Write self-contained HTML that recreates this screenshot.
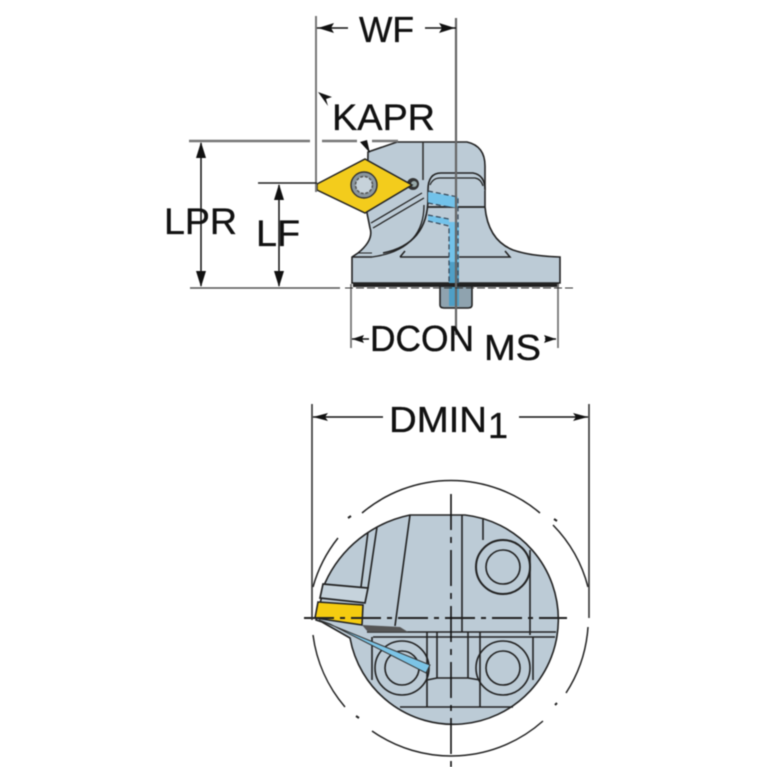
<!DOCTYPE html>
<html><head><meta charset="utf-8"><style>
html,body{margin:0;padding:0;background:#fff}
svg{display:block;filter:blur(.45px)}
text{font-family:"Liberation Sans",sans-serif;fill:#111;stroke:#111;stroke-width:.35}
</style></head><body>
<svg width="767" height="767" viewBox="0 0 767 767" xmlns="http://www.w3.org/2000/svg">

<!-- TOP VIEW body -->
<path d="M368 152L397 142H467Q485 146 485 166V207Q488 240 513 250Q530 256 560 257V283H352V257L358 253Q374 240 370 228L367 213Z" fill="#bccbd6" stroke="#222" stroke-width="1.6"/>
<path d="M423 142V180" stroke="#333" stroke-width="1.6"/>
<path d="M352 257H372M400 257L405 251M400 257H510L505 251" fill="none" stroke="#222" stroke-width="1.5"/>
<path d="M358 253H372" fill="none" stroke="#222" stroke-width="1"/>
<path d="M383 253Q428 244 428 198V190Q428 173 441 173H473Q485 175 485 190" fill="#bccbd6" stroke="#222" stroke-width="1.6"/>
<path d="M372 257Q424 250 424 205" fill="none" stroke="#222" stroke-width="1.3"/>
<path d="M430 185Q433 178 440 178H475Q481 179 483 186" fill="none" stroke="#222" stroke-width="1.2"/>
<path d="M428 207H485" stroke="#222" stroke-width="1.8"/>
<path d="M371 223L422 193M373 228L424 198" stroke="#222" stroke-width="1.3"/>
<!-- coolant -->
<path d="M428 192L458 197V208L428 203Z M428 215L449 219V225L428 221Z" fill="#72c2ea"/>
<path d="M449 222H459V262H449Z" fill="#72c2ea"/>
<path d="M449 262H459V306H449Z" fill="#4f9fc6"/>
<path d="M428 191L458 197V303M428 203L449 207M428 215L449 219M428 221L449 226V303" fill="none" stroke="#345" stroke-width="1.2" stroke-dasharray="5 3"/>
<!-- screw bottom -->
<path d="M440 286H472V305Q472 308 468 308H444Q440 308 440 305Z" fill="#8fa3af" stroke="#222" stroke-width="1.6"/>
<rect x="449" y="286" width="10" height="20" fill="#4f9fc6"/>
<rect x="353" y="283" width="206" height="4" fill="#222"/>
<!-- insert -->
<circle cx="413" cy="184" r="6" fill="#333"/><circle cx="414" cy="184" r="3" fill="#9aa"/>
<path d="M317 184L365 159L412 185L365 213L317 190Z" fill="#f3cc1c" stroke="#222" stroke-width="1.5"/>
<circle cx="364" cy="185" r="13" fill="#8b979e" stroke="#333" stroke-width="1.4"/>
<circle cx="364" cy="185" r="8.5" fill="#c6d2da" stroke="#555" stroke-width="1.5" stroke-dasharray="3 1.5"/>

<!-- dimension lines top -->
<path d="M456 18V335" stroke="#666" stroke-width="2.2"/>
<path d="M316 16V192" stroke="#777" stroke-width="2"/>
<path d="M189 141H310M322 141H357M372 141H398" stroke="#777" stroke-width="2.5"/>
<path d="M351 284V348M558 284V348" stroke="#777" stroke-width="1.8"/>
<path d="M190 288H340" stroke="#555" stroke-width="1.5"/>
<path d="M345 288H574" stroke="#333" stroke-width="1" stroke-dasharray="8 3"/>
<path d="M258 183H317" stroke="#222" stroke-width="1.5"/>
<path d="M201 143V286M279 185V286" stroke="#111" stroke-width="1.5"/>
<path d="M201 142l-5 16h10zM201 287l-5-16h10zM279 184l-5 16h10zM279 287l-5-16h10z" fill="#111"/>
<path d="M317 28H348M425 28H456" stroke="#111" stroke-width="1.4"/>
<path d="M318 28l16-5-3 5 3 5zM455 28l-16-5 3 5-3 5z" fill="#111"/>
<path d="M352 339H369M545 339H556" stroke="#111" stroke-width="1.4"/>
<path d="M352 339l12-4-2 4 2 4zM556 339l-12-4 2 4-2 4z" fill="#111"/>
<path d="M318 92L332 97L326 99L328 106ZM370 153L360 142L367 140Z" fill="#111"/>

<text x="359" y="42" font-size="36" textLength="55" lengthAdjust="spacingAndGlyphs">WF</text>
<text x="332" y="130" font-size="37" textLength="103" lengthAdjust="spacingAndGlyphs">KAPR</text>
<text x="164" y="234" font-size="37" textLength="73" lengthAdjust="spacingAndGlyphs">LPR</text>
<text x="256" y="246" font-size="37" textLength="44" lengthAdjust="spacingAndGlyphs">LF</text>
<text x="370" y="351" font-size="36" textLength="104" lengthAdjust="spacingAndGlyphs">DCON</text>
<text x="484" y="360" font-size="36" textLength="57" lengthAdjust="spacingAndGlyphs">MS</text>

<!-- BOTTOM VIEW -->
<path d="M350 638A105 105 0 1 0 465 515H410A120 120 0 0 0 325 583L316 620L322 622Z" fill="#bccbd6" stroke="#222" stroke-width="1.6"/>
<g fill="none" stroke="#222" stroke-width="1.6">
<path d="M410 515L395 626M368 532L361 587M377 527L368 588M462 515V632M483 518V540M530 550V635"/>
<path d="M367 632H556M373 637H555"/>
<path d="M372 637V680M427 632V707M437 632V678M468 632V678M480 632V707M533 637V680"/>
<path d="M427 680L437 678H468L480 680M400 707H513"/>
<circle cx="503" cy="567" r="27" stroke-width="2"/><circle cx="503" cy="567" r="17"/>
<circle cx="503" cy="668" r="27"/><circle cx="503" cy="668" r="17"/>
<circle cx="402" cy="668" r="27"/><circle cx="402" cy="668" r="17"/>
</g>
<path d="M323 584L368 588L365 603L320 598Z" fill="#c6d3dc" stroke="#222" stroke-width="1.7"/>
<path d="M318 602L363 605L362 625L315 618Z" fill="#f5cc10" stroke="#222" stroke-width="1.6"/>
<path d="M362 625L400 627L408 632H368Z" fill="#555"/>
<path d="M319 620L430 665L426 673L330 624Z" fill="#7cc4e6" stroke="#333" stroke-width="1"/>

<g fill="none" stroke="#222" stroke-width="1.5">
<path d="M338 538A138 138 0 0 0 313 587"/>
<path d="M362 513A138 138 0 0 1 540 513"/>
<path d="M553 525A138 138 0 0 1 588 587"/>
<path d="M588 627A138 138 0 0 1 566 693"/>
<path d="M543 721A138 138 0 0 1 372 731"/>
<path d="M345 707A138 138 0 0 1 313 635"/>
</g>
<path d="M348 518l3-2M554 519l3 2M555 705l2-2M356 716l3 2" stroke="#222" stroke-width="2"/>
<path d="M304 618H567" stroke="#222" stroke-width="2" stroke-dasharray="30 6 5 6"/>
<path d="M451 494V767" stroke="#111" stroke-width="1.6" stroke-dasharray="36 7 6 7"/>
<path d="M312 404V620" stroke="#333" stroke-width="1.6"/>
<path d="M589 404V618" stroke="#333" stroke-width="1.6"/>
<path d="M313 417H383M519 417H588" stroke="#111" stroke-width="1.4"/>
<path d="M313 417l15-4-3 4 3 4zM588 417l-15-4 3 4-3 4z" fill="#111"/>
<text x="389" y="432" font-size="36" textLength="98" lengthAdjust="spacingAndGlyphs">DMIN</text>
<text x="488" y="438" font-size="36">1</text>
</svg>
</body></html>
